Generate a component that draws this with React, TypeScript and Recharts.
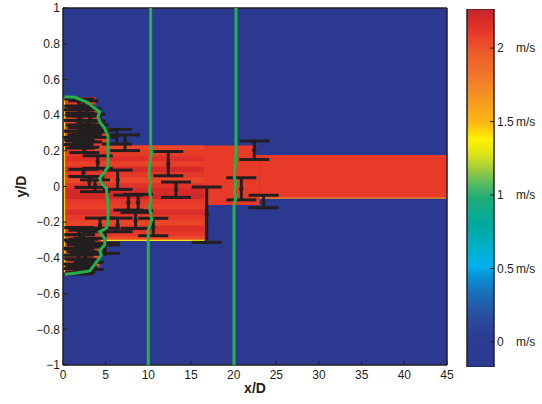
import React from 'react';
import { ComposedChart, XAxis, YAxis, CartesianGrid, ReferenceArea, Line, Scatter, ErrorBar, Bar } from 'recharts';

const ink = '#231f20';
const green = '#27b04b';
const font = '"Liberation Sans", Arial, Helvetica, sans-serif';

const xTicks = [0, 5, 10, 15, 20, 25, 30, 35, 40, 45];
const yTicks = [-1, -0.8, -0.6, -0.4, -0.2, 0, 0.2, 0.4, 0.6, 0.8, 1];
const speedTicks = [0, 0.5, 1, 1.5, 2];

// colour map (m/s -> colour)
const cmapValues = [-0.17, 0.05, 0.18, 0.32, 0.44, 0.52, 0.62, 0.8, 0.98, 1.08, 1.18, 1.28, 1.38, 1.48, 1.62, 1.8, 1.98, 2.1, 2.19, 2.266];
const cmapColors = ['#2c3991', '#2c3d94', '#2a4f9f', '#1a6db6', '#0a8fd4', '#00b1ee', '#00b0cf', '#00a99d', '#20ad7a', '#59b95f', '#a2cd3a', '#e0e31a', '#fff200', '#fcbb14', '#f69f1f', '#f1782a', '#ec5a2a', '#e83a28', '#d92b2a', '#c1272d'];

// jet core, x/D 0 - 16.6, horizontal stripes
const stripeEdges = [0.229, 0.2, 0.17, 0.14, 0.11, 0.08, 0.05, 0.02, -0.01, -0.04, -0.07, -0.1, -0.13, -0.16, -0.19, -0.22, -0.25, -0.28, -0.3];
const stripeSpeeds = [2.06, 2.1, 2.16, 2.08, 2.2, 2.12, 2.05, 2.14, 2.2, 2.22, 2.12, 2.08, 2.18, 2.1, 2.06, 2.16, 2.12, 2.02];

// other field cells
const fieldCells = [
  { x0: 0, x1: 3.8, y0: 0.44, y1: 0.5, u: 2.1 },
  { x0: 0, x1: 4.3, y0: 0.3, y1: 0.44, u: 2.05 },
  { x0: 0, x1: 5.2, y0: 0.225, y1: 0.3, u: 2.12 },
  { x0: 0, x1: 5.2, y0: -0.36, y1: -0.296, u: 2.1 },
  { x0: 0, x1: 4.3, y0: -0.45, y1: -0.36, u: 2.05 },
  { x0: 0, x1: 3.2, y0: -0.49, y1: -0.45, u: 2.1 },
  { x0: 16.5, x1: 22.5, y0: -0.104, y1: 0.229, u: 2.1 },
  { x0: 22.5, x1: 23, y0: -0.104, y1: 0.176, u: 2.1 },
  { x0: 23, x1: 45, y0: -0.064, y1: 0.176, u: 2.1 },
  { x0: 0, x1: 0.25, y0: -0.49, y1: 0.5, u: 1.45 },
  { x0: 4.5, x1: 16.6, y0: -0.306, y1: -0.298, u: 1.4 },
  { x0: 23, x1: 45, y0: -0.068, y1: -0.062, u: 1.7 },
];

// measured points with error bars
const barX = [
  1.9, 2.4, 2.0, 2.8, 1.85, 3.2, 2.1, 2.9, 1.9, 3.6, 2.3, 4.3, 1.9, 2.8, 1.8, 2.0, 2.5,
  6.3, 7.27, 4.07, 2.4, 3.1, 3.75, 6.4, 7.66, 8.8, 8.5, 4.34, 6.4, 4.9, 4.9,
  12.34, 13.24, 16.84, 10.58, 20.9, 22.42, 23.5,
  1.9, 2.4, 2.0, 3.0, 1.85, 2.2, 3.4, 1.9, 2.6, 1.8, 2.2, 3.0, 2.0, 1.8,
];
const barY = [
  0.47, 0.455, 0.43, 0.415, 0.4, 0.385, 0.37, 0.35, 0.34, 0.325, 0.31, 0.295, 0.285, 0.27, 0.255, 0.235, 0.205,
  0.279, 0.245, 0.137, 0.076, 0.025, 0.004, 0.038, -0.09, -0.09, -0.19, -0.215, -0.215, -0.276, -0.351,
  0.128, -0.018, -0.158, -0.227, -0.013, 0.203, -0.084,
  -0.25, -0.27, -0.29, -0.31, -0.325, -0.345, -0.36, -0.375, -0.39, -0.41, -0.43, -0.445, -0.46, -0.475,
];
const barErr = [
  0.02, 0.025, 0.02, 0.02, 0.03, 0.02, 0.025, 0.02, 0.03, 0.02, 0.02, 0.02, 0.025, 0.02, 0.02, 0.02, 0.015,
  0.041, 0.044, 0.035, 0.02, 0.03, 0.033, 0.054, 0.042, 0.046, 0.045, 0.038, 0.038, 0.042, 0.023,
  0.068, 0.043, 0.155, 0.049, 0.062, 0.052, 0.035,
  0.02, 0.025, 0.02, 0.02, 0.025, 0.02, 0.02, 0.03, 0.02, 0.025, 0.02, 0.02, 0.02, 0.015,
];

// velocity profiles (green)
const profileAt0 = [
  { x: 0.2, y: 0.503 }, { x: 1.4, y: 0.5 }, { x: 2.93, y: 0.47 }, { x: 3.71, y: 0.438 }, { x: 4.3, y: 0.419 },
  { x: 4.1, y: 0.391 }, { x: 4.3, y: 0.363 }, { x: 4.89, y: 0.326 }, { x: 5.27, y: 0.279 }, { x: 5.27, y: 0.167 },
  { x: 5.27, y: 0.111 }, { x: 4.89, y: 0.083 }, { x: 4.3, y: 0.046 }, { x: 4.49, y: 0.018 }, { x: 5.08, y: -0.01 },
  { x: 5.27, y: -0.104 }, { x: 5.27, y: -0.197 }, { x: 5.08, y: -0.234 }, { x: 4.3, y: -0.253 }, { x: 4.89, y: -0.29 },
  { x: 4.89, y: -0.328 }, { x: 4.3, y: -0.356 }, { x: 4.49, y: -0.384 }, { x: 4.1, y: -0.412 }, { x: 3.52, y: -0.449 },
  { x: 3.13, y: -0.473 }, { x: 1.37, y: -0.486 }, { x: 0.2, y: -0.492 },
];
const profileAt10 = [
  { x: 10.27, y: 1 }, { x: 10.27, y: 0.229 }, { x: 10.39, y: 0.195 }, { x: 10.12, y: 0.111 }, { x: 10.08, y: 0.064 },
  { x: 10.27, y: 0.027 }, { x: 10.12, y: -0.02 }, { x: 10.31, y: -0.076 }, { x: 10.12, y: -0.113 }, { x: 10.27, y: -0.15 },
  { x: 10.39, y: -0.188 }, { x: 9.99, y: -0.244 }, { x: 9.99, y: -0.3 }, { x: 9.99, y: -1 },
];
const profileAt20 = [
  { x: 20.27, y: 1 }, { x: 20.27, y: 0.229 }, { x: 20.27, y: 0.186 }, { x: 20.16, y: 0.13 }, { x: 20.08, y: 0.055 },
  { x: 20.24, y: 0.018 }, { x: 20.08, y: -0.029 }, { x: 20.24, y: -0.066 }, { x: 20.04, y: -0.104 }, { x: 20.04, y: -1 },
];

const bars = barX.map((x, i) => ({ x, y: barY[i], err: barErr[i] }));

const hexRgb = (h: string) => [1, 3, 5].map((k) => parseInt(h.slice(k, k + 2), 16));

function speedColor(u: number) {
  const n = cmapValues.length;
  if (u <= cmapValues[0]) return cmapColors[0];
  if (u >= cmapValues[n - 1]) return cmapColors[n - 1];
  let i = 0;
  while (u > cmapValues[i + 1]) i++;
  const t = (u - cmapValues[i]) / (cmapValues[i + 1] - cmapValues[i]);
  const a = hexRgb(cmapColors[i]);
  const b = hexRgb(cmapColors[i + 1]);
  const c = a.map((v, k) => Math.round(v + (b[k] - v) * t));
  return `rgb(${c[0]},${c[1]},${c[2]})`;
}

const fmtY = (v: number) => (v < 0 ? '\u2212' + String(-v) : String(v));

const SpeedTick = (props: any) => {
  const { x, y, payload } = props;
  return (
    <g>
      <text x={x} y={y} dy="0.35em" fontSize={12} fill={ink} fontFamily={font}>{payload.value}</text>
      <text x={x + 19} y={y} dy="0.35em" fontSize={12} fill={ink} fontFamily={font}>m/s</text>
    </g>
  );
};

const Dot = (p: any) => <circle cx={p.cx} cy={p.cy} r={2.2} fill={ink} />;

const cbMin = cmapValues[0];
const cbMax = cmapValues[cmapValues.length - 1];
const colorBar = [{ name: 'speed', range: [cbMin, cbMax] }];

const tickStyle = { fontSize: 12, fill: ink, fontFamily: font };

export default function App() {
  return (
    <div style={{ position: 'absolute', left: 0, top: 0, width: 542, height: 404, background: '#fff', fontFamily: font }}>
      <div style={{ position: 'absolute', left: 0, top: 0 }}>
        <ComposedChart width={460} height={404} margin={{ top: 7, right: 12, left: 8, bottom: 9 }}>
          <CartesianGrid fill="#2c3991" horizontal={false} vertical={false} stroke="none" />
          <XAxis
            type="number"
            dataKey="x"
            domain={[0, 45]}
            ticks={xTicks}
            interval={0}
            allowDataOverflow
            tickSize={-4}
            tickMargin={9}
            height={30}
            stroke={ink}
            tick={tickStyle}
            label={{ value: 'x/D', position: 'center', dy: 8, fontSize: 14, fontWeight: 'bold', fill: ink, fontFamily: font }}
          />
          <XAxis xAxisId="top" orientation="top" type="number" dataKey="x" domain={[0, 45]} ticks={xTicks} interval={0} allowDataOverflow height={1} tickSize={-4} tick={false} stroke={ink} />
          <YAxis
            type="number"
            dataKey="y"
            domain={[-1, 1]}
            ticks={yTicks}
            interval={0}
            allowDataOverflow
            tickSize={-4}
            tickMargin={7}
            width={55}
            stroke={ink}
            tick={tickStyle}
            tickFormatter={fmtY}
            label={{ value: 'y/D', angle: -90, position: 'center', dx: -14, fontSize: 14, fontWeight: 'bold', fill: ink, fontFamily: font }}
          />
          <YAxis yAxisId="right" orientation="right" type="number" dataKey="y" domain={[-1, 1]} ticks={yTicks} interval={0} allowDataOverflow width={1} tickSize={-4} tick={false} stroke={ink} />

          <ReferenceArea x1={0} x2={16.6} y1={-0.3} y2={0.229} fill={speedColor(2.1)} fillOpacity={1} stroke="none" />
          {stripeSpeeds.map((u, i) => (
            <ReferenceArea key={'s' + i} x1={0} x2={16.6} y1={stripeEdges[i + 1]} y2={stripeEdges[i]} fill={speedColor(u)} fillOpacity={1} stroke="none" />
          ))}
          {fieldCells.map((c, i) => (
            <ReferenceArea key={'c' + i} x1={c.x0} x2={c.x1} y1={c.y0} y2={c.y1} fill={speedColor(c.u)} fillOpacity={1} stroke="none" />
          ))}
          <ReferenceArea x1={0} x2={45} y1={-1} y2={1} fill="none" stroke={ink} strokeWidth={1} />

          <Scatter data={bars} fill={ink} shape={Dot} isAnimationActive={false}>
            <ErrorBar dataKey="err" direction="y" width={15} strokeWidth={3} stroke={ink} />
          </Scatter>

          <Line data={profileAt0} dataKey="y" type="linear" stroke={green} strokeWidth={3} dot={false} isAnimationActive={false} zIndex={700} />
          <Line data={profileAt10} dataKey="y" type="linear" stroke={green} strokeWidth={3} dot={false} isAnimationActive={false} zIndex={700} />
          <Line data={profileAt20} xAxisId="top" yAxisId="right" dataKey="y" type="linear" stroke={green} strokeWidth={3} dot={false} isAnimationActive={false} zIndex={700} />
        </ComposedChart>
      </div>

      <div style={{ position: 'absolute', left: 440, top: 0 }}>
        <ComposedChart width={102} height={404} data={colorBar} barCategoryGap={0} margin={{ top: 9, right: 0, left: 26, bottom: 37 }}>
          <defs>
            <linearGradient id="speedBar" x1="0" y1="1" x2="0" y2="0">
              {cmapValues.map((v, i) => (
                <stop key={i} offset={(v - cbMin) / (cbMax - cbMin)} stopColor={cmapColors[i]} />
              ))}
            </linearGradient>
          </defs>
          <XAxis dataKey="name" type="category" hide />
          <YAxis
            orientation="right"
            type="number"
            domain={[cbMin, cbMax]}
            ticks={speedTicks}
            interval={0}
            allowDataOverflow
            width={48}
            tickSize={-4}
            tickMargin={7}
            stroke={ink}
            tick={<SpeedTick />}
          />
          <YAxis yAxisId="left" orientation="left" type="number" domain={[cbMin, cbMax]} ticks={speedTicks} interval={0} allowDataOverflow width={1} tickSize={-4} tick={false} stroke={ink} />
          <Bar dataKey="range" fill="url(#speedBar)" stroke={ink} strokeWidth={1} isAnimationActive={false} />
        </ComposedChart>
      </div>
    </div>
  );
}
